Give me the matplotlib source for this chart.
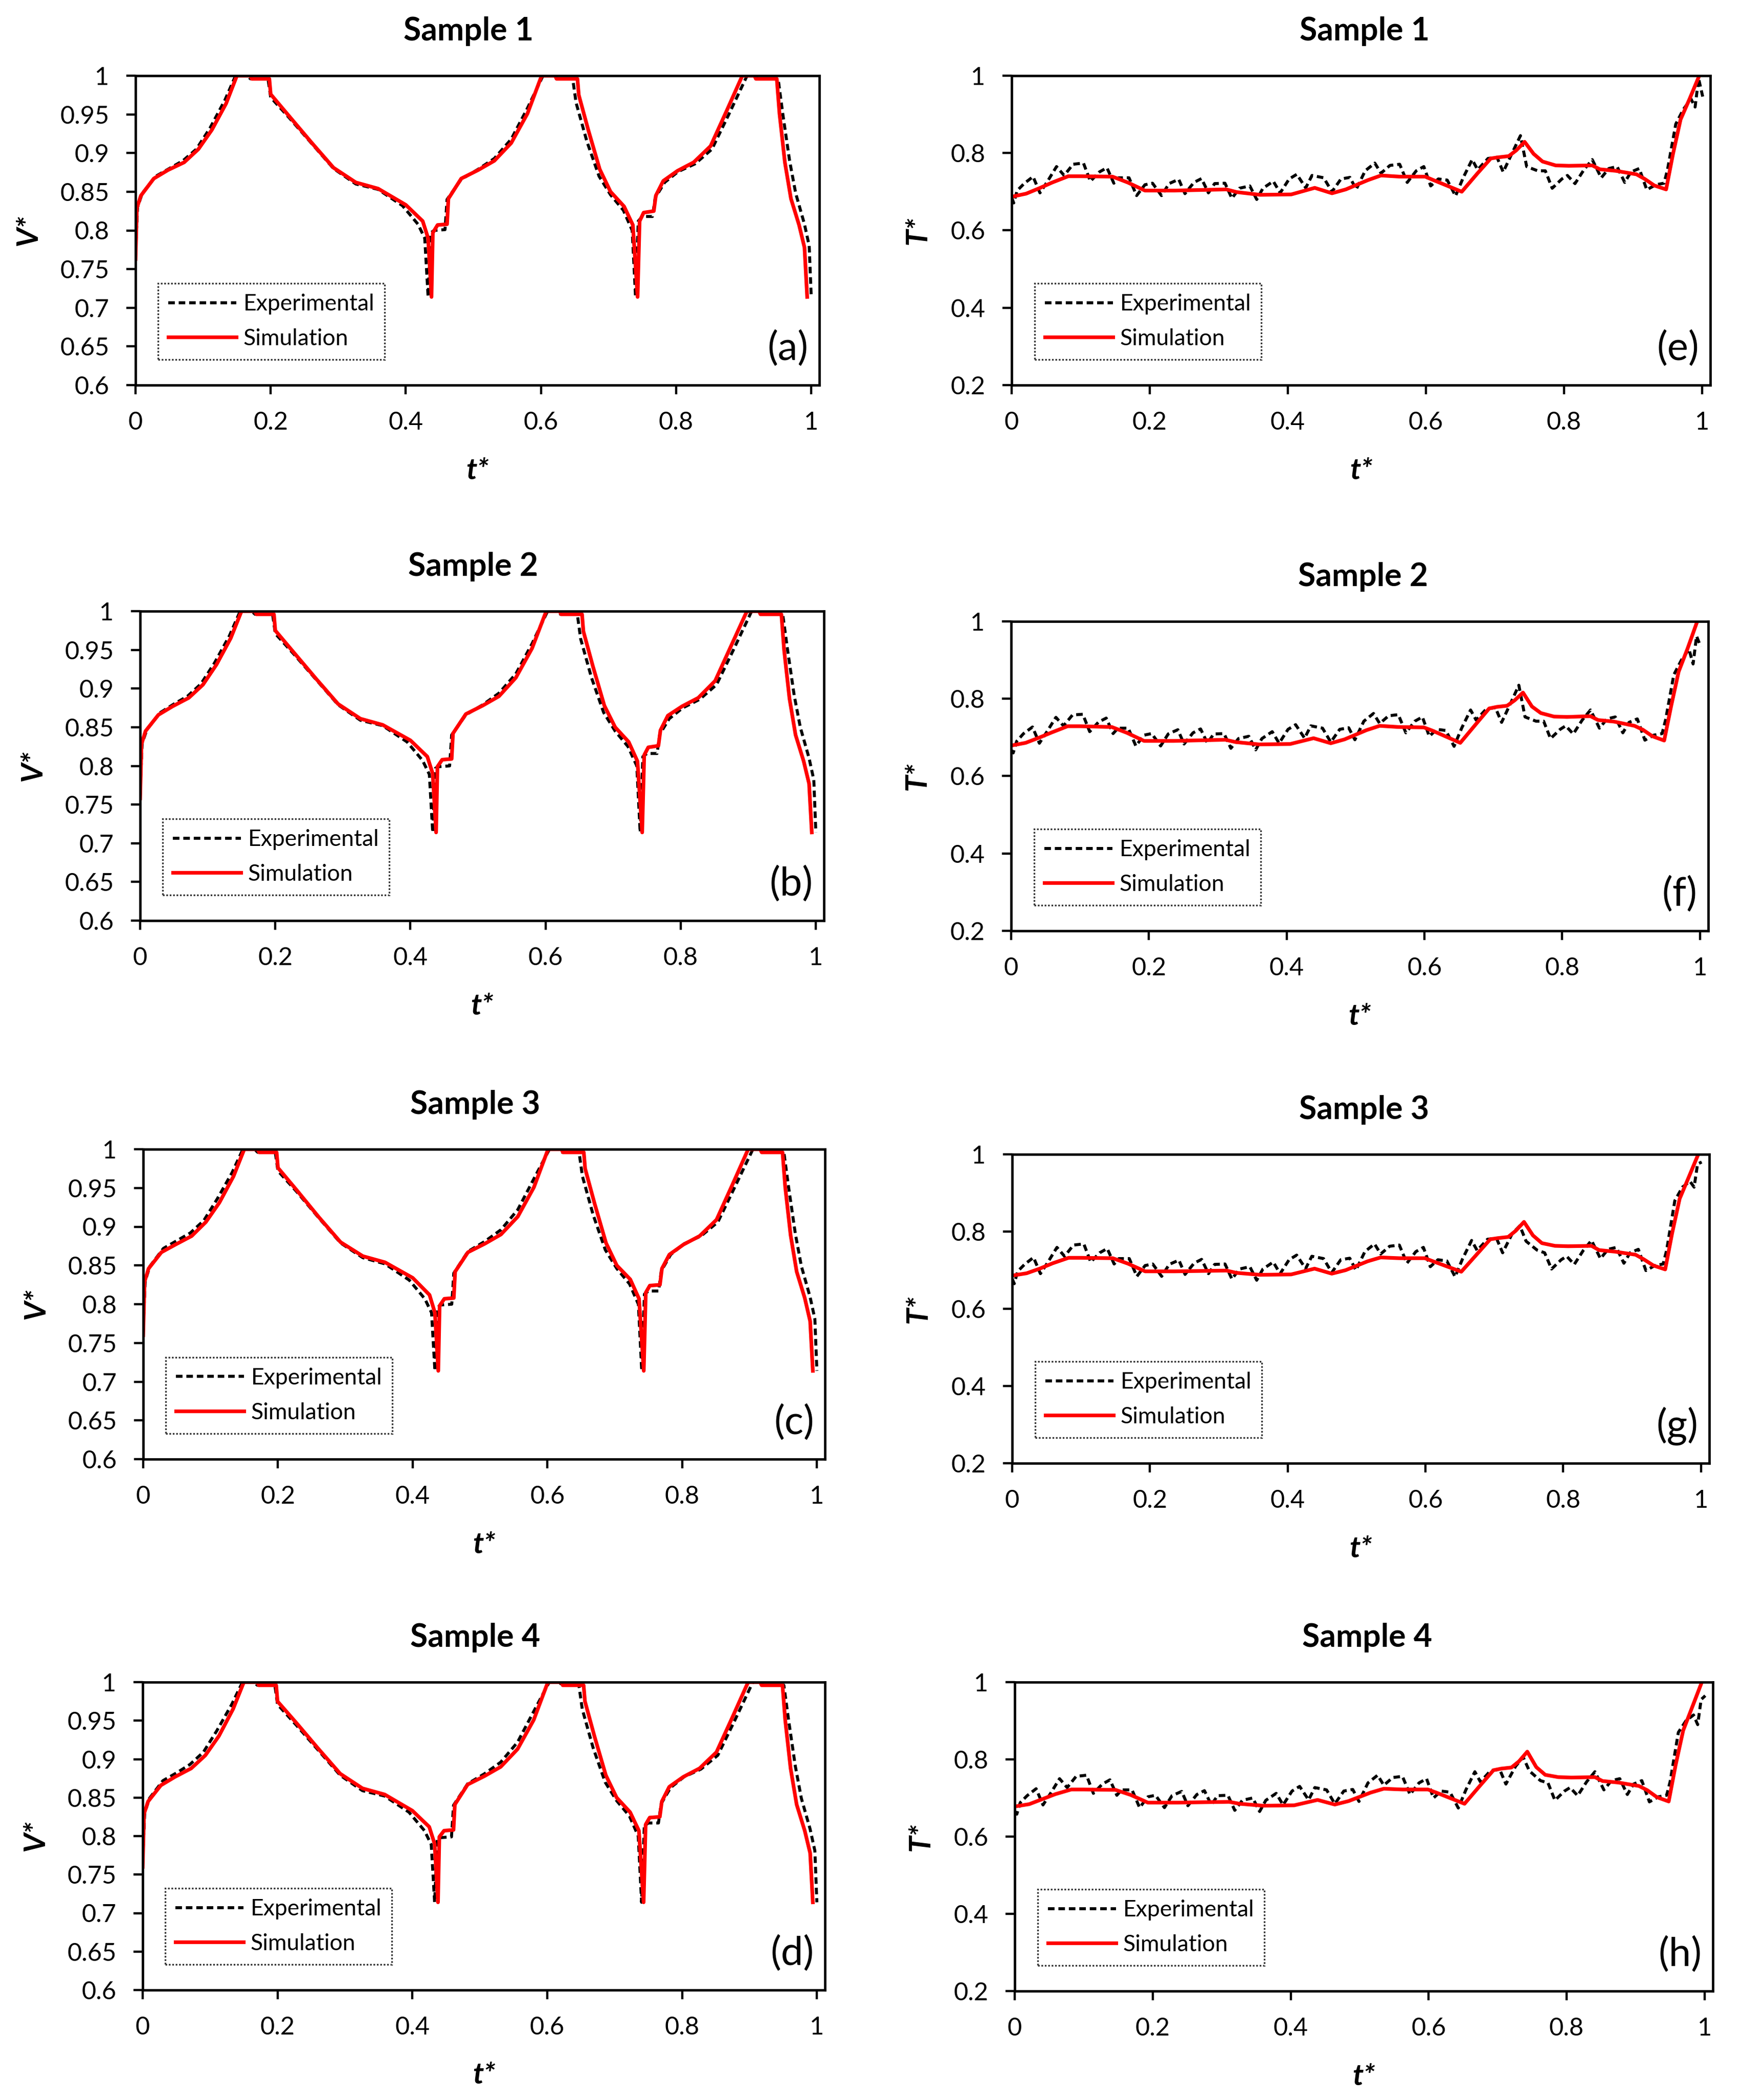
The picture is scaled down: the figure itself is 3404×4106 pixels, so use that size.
import matplotlib
matplotlib.use("Agg")
import matplotlib.pyplot as plt
from matplotlib.ticker import FuncFormatter, MultipleLocator

plt.rcParams["font.family"] = ["Lato", "DejaVu Sans"]

# ---- V* panels (a)-(d) ----
t_v_sim = [0.000, 0.002, 0.008, 0.027, 0.048, 0.072, 0.093, 0.113, 0.134, 0.150,
           0.170, 0.172, 0.198, 0.200, 0.228, 0.261, 0.293, 0.326, 0.359, 0.400,
           0.425, 0.433, 0.438, 0.440, 0.447, 0.461, 0.463, 0.482, 0.507, 0.531,
           0.556, 0.580, 0.601, 0.621, 0.623, 0.654, 0.656, 0.670, 0.687, 0.703,
           0.723, 0.736, 0.743, 0.746, 0.752, 0.767, 0.770, 0.781, 0.802, 0.826,
           0.851, 0.875, 0.898, 0.916, 0.918, 0.949, 0.953, 0.961, 0.970, 0.982,
           0.990, 0.994]
t_v_exp = [0.000, 0.003, 0.010, 0.030, 0.050, 0.070, 0.090, 0.110, 0.132, 0.148,
           0.165, 0.170, 0.196, 0.200, 0.228, 0.261, 0.293, 0.326, 0.359, 0.395,
           0.418, 0.428, 0.433, 0.437, 0.442, 0.458, 0.461, 0.482, 0.507, 0.531,
           0.556, 0.580, 0.603, 0.618, 0.622, 0.647, 0.652, 0.668, 0.686, 0.703,
           0.722, 0.735, 0.740, 0.744, 0.750, 0.765, 0.769, 0.783, 0.803, 0.828,
           0.853, 0.878, 0.905, 0.918, 0.920, 0.951, 0.958, 0.968, 0.977, 0.990,
           0.997, 1.000]

v_sim_1 = [0.763, 0.829, 0.845, 0.867, 0.878, 0.888, 0.905, 0.930, 0.964, 1.000,
           1.000, 0.996, 0.996, 0.976, 0.947, 0.913, 0.881, 0.862, 0.854, 0.833,
           0.812, 0.790, 0.714, 0.797, 0.807, 0.808, 0.841, 0.867, 0.878, 0.890,
           0.913, 0.951, 1.000, 1.000, 0.996, 0.996, 0.975, 0.930, 0.879, 0.850,
           0.831, 0.807, 0.714, 0.812, 0.823, 0.825, 0.845, 0.864, 0.877, 0.888,
           0.909, 0.955, 1.000, 1.000, 0.996, 0.996, 0.951, 0.888, 0.841, 0.807,
           0.778, 0.714]
v_exp_1 = [0.770, 0.830, 0.848, 0.870, 0.880, 0.890, 0.905, 0.932, 0.968, 1.000,
           1.000, 0.996, 0.996, 0.972, 0.945, 0.912, 0.880, 0.860, 0.853, 0.832,
           0.808, 0.790, 0.714, 0.797, 0.800, 0.801, 0.840, 0.866, 0.879, 0.893,
           0.918, 0.958, 1.000, 1.000, 0.996, 0.996, 0.965, 0.915, 0.870, 0.846,
           0.826, 0.800, 0.714, 0.812, 0.818, 0.818, 0.842, 0.862, 0.876, 0.886,
           0.905, 0.950, 1.000, 1.000, 0.996, 0.996, 0.950, 0.890, 0.848, 0.808,
           0.780, 0.714]

v_sim_2 = [0.758, 0.828, 0.845, 0.866, 0.877, 0.888, 0.905, 0.931, 0.965, 1.000,
           1.000, 0.996, 0.996, 0.975, 0.946, 0.912, 0.880, 0.861, 0.853, 0.833,
           0.812, 0.790, 0.714, 0.799, 0.808, 0.809, 0.842, 0.867, 0.878, 0.890,
           0.914, 0.952, 1.000, 1.000, 0.996, 0.996, 0.974, 0.929, 0.878, 0.850,
           0.831, 0.806, 0.714, 0.814, 0.824, 0.826, 0.846, 0.865, 0.877, 0.888,
           0.910, 0.956, 1.000, 1.000, 0.996, 0.996, 0.950, 0.887, 0.840, 0.806,
           0.777, 0.714]
v_exp_2 = [0.768, 0.829, 0.847, 0.869, 0.880, 0.890, 0.906, 0.933, 0.968, 1.000,
           1.000, 0.996, 0.996, 0.971, 0.944, 0.911, 0.879, 0.859, 0.852, 0.831,
           0.807, 0.789, 0.714, 0.797, 0.799, 0.800, 0.840, 0.866, 0.879, 0.894,
           0.919, 0.958, 1.000, 1.000, 0.996, 0.996, 0.964, 0.914, 0.869, 0.845,
           0.825, 0.800, 0.714, 0.812, 0.816, 0.816, 0.841, 0.861, 0.875, 0.886,
           0.905, 0.950, 1.000, 1.000, 0.996, 0.996, 0.951, 0.891, 0.850, 0.810,
           0.782, 0.714]

v_sim_3 = [0.760, 0.829, 0.846, 0.867, 0.877, 0.888, 0.906, 0.931, 0.965, 1.000,
           1.000, 0.996, 0.996, 0.976, 0.947, 0.912, 0.880, 0.862, 0.854, 0.834,
           0.812, 0.789, 0.714, 0.798, 0.807, 0.808, 0.842, 0.867, 0.878, 0.890,
           0.913, 0.951, 1.000, 1.000, 0.996, 0.996, 0.975, 0.930, 0.879, 0.850,
           0.832, 0.807, 0.714, 0.815, 0.824, 0.825, 0.846, 0.864, 0.877, 0.888,
           0.909, 0.955, 1.000, 1.000, 0.996, 0.996, 0.951, 0.889, 0.842, 0.808,
           0.778, 0.714]
v_exp_3 = [0.768, 0.830, 0.849, 0.872, 0.882, 0.892, 0.908, 0.936, 0.970, 1.000,
           1.000, 0.996, 0.996, 0.972, 0.945, 0.911, 0.879, 0.860, 0.852, 0.831,
           0.807, 0.789, 0.714, 0.796, 0.799, 0.800, 0.840, 0.868, 0.881, 0.896,
           0.922, 0.962, 1.000, 1.000, 0.996, 0.996, 0.965, 0.915, 0.870, 0.846,
           0.826, 0.800, 0.714, 0.813, 0.817, 0.817, 0.843, 0.864, 0.878, 0.888,
           0.906, 0.951, 1.000, 1.000, 0.996, 0.996, 0.951, 0.891, 0.849, 0.809,
           0.781, 0.714]

v_sim_4 = [0.760, 0.829, 0.845, 0.866, 0.877, 0.888, 0.905, 0.930, 0.965, 1.000,
           1.000, 0.996, 0.996, 0.975, 0.947, 0.913, 0.881, 0.862, 0.854, 0.833,
           0.812, 0.790, 0.714, 0.799, 0.807, 0.808, 0.841, 0.867, 0.878, 0.890,
           0.913, 0.951, 1.000, 1.000, 0.996, 0.996, 0.975, 0.930, 0.879, 0.850,
           0.831, 0.807, 0.714, 0.815, 0.824, 0.825, 0.845, 0.864, 0.877, 0.888,
           0.909, 0.955, 1.000, 1.000, 0.996, 0.996, 0.951, 0.888, 0.841, 0.807,
           0.778, 0.714]
v_exp_4 = [0.768, 0.830, 0.849, 0.872, 0.882, 0.893, 0.909, 0.937, 0.971, 1.000,
           1.000, 0.996, 0.996, 0.971, 0.944, 0.911, 0.879, 0.859, 0.852, 0.831,
           0.807, 0.789, 0.714, 0.796, 0.798, 0.799, 0.840, 0.868, 0.881, 0.896,
           0.922, 0.962, 1.000, 1.000, 0.996, 0.996, 0.965, 0.915, 0.870, 0.846,
           0.826, 0.800, 0.714, 0.813, 0.817, 0.817, 0.842, 0.863, 0.877, 0.887,
           0.905, 0.950, 1.000, 1.000, 0.996, 0.996, 0.951, 0.891, 0.849, 0.809,
           0.781, 0.714]

# ---- T* panels (e)-(h) ----
t_T_exp = [0.000, 0.003, 0.008, 0.018, 0.031, 0.041, 0.052, 0.065, 0.076, 0.089,
           0.104, 0.114, 0.127, 0.138, 0.148, 0.155, 0.170, 0.181, 0.193, 0.204,
           0.217, 0.228, 0.242, 0.251, 0.264, 0.275, 0.285, 0.294, 0.309, 0.319,
           0.330, 0.345, 0.355, 0.364, 0.379, 0.389, 0.402, 0.413, 0.426, 0.435,
           0.452, 0.464, 0.477, 0.490, 0.499, 0.512, 0.526, 0.535, 0.548, 0.562,
           0.573, 0.586, 0.597, 0.607, 0.618, 0.631, 0.643, 0.654, 0.667, 0.675,
           0.690, 0.703, 0.712, 0.726, 0.737, 0.746, 0.762, 0.773, 0.783, 0.797,
           0.805, 0.816, 0.829, 0.841, 0.854, 0.865, 0.877, 0.888, 0.897, 0.909,
           0.920, 0.933, 0.945, 0.950, 0.962, 0.973, 0.984, 0.990, 0.995, 1.001]
t_T_sim = [0.000, 0.021, 0.040, 0.059, 0.082, 0.100, 0.146, 0.168, 0.193, 0.236,
           0.311, 0.326, 0.360, 0.405, 0.439, 0.464, 0.484, 0.516, 0.535, 0.562,
           0.599, 0.611, 0.652, 0.675, 0.694, 0.705, 0.720, 0.731, 0.743, 0.756,
           0.769, 0.788, 0.807, 0.841, 0.852, 0.875, 0.905, 0.917, 0.931, 0.948,
           0.958, 0.969, 0.982, 0.996]

T_exp_1 = [0.685, 0.671, 0.703, 0.721, 0.739, 0.697, 0.727, 0.765, 0.742, 0.771,
           0.774, 0.727, 0.751, 0.762, 0.722, 0.736, 0.736, 0.690, 0.718, 0.722,
           0.690, 0.721, 0.732, 0.695, 0.724, 0.734, 0.697, 0.721, 0.722, 0.683,
           0.709, 0.715, 0.680, 0.709, 0.727, 0.697, 0.733, 0.745, 0.710, 0.742,
           0.736, 0.700, 0.733, 0.737, 0.706, 0.754, 0.774, 0.748, 0.768, 0.771,
           0.724, 0.754, 0.765, 0.715, 0.733, 0.730, 0.689, 0.736, 0.783, 0.757,
           0.786, 0.789, 0.751, 0.804, 0.845, 0.765, 0.754, 0.754, 0.709, 0.733,
           0.742, 0.721, 0.757, 0.783, 0.736, 0.760, 0.765, 0.724, 0.751, 0.760,
           0.705, 0.718, 0.722, 0.757, 0.875, 0.913, 0.940, 0.919, 0.993, 0.946]
T_sim_1 = [0.687, 0.695, 0.709, 0.724, 0.740, 0.740, 0.739, 0.724, 0.703, 0.703,
           0.706, 0.699, 0.692, 0.693, 0.710, 0.696, 0.706, 0.730, 0.742, 0.739,
           0.739, 0.730, 0.700, 0.748, 0.786, 0.789, 0.792, 0.807, 0.829, 0.798,
           0.778, 0.768, 0.767, 0.768, 0.758, 0.754, 0.745, 0.733, 0.716, 0.706,
           0.798, 0.887, 0.940, 1.000]

T_exp_2 = [0.668, 0.660, 0.690, 0.710, 0.727, 0.685, 0.715, 0.752, 0.730, 0.758,
           0.760, 0.715, 0.740, 0.750, 0.710, 0.724, 0.724, 0.678, 0.706, 0.710,
           0.678, 0.709, 0.720, 0.683, 0.712, 0.722, 0.685, 0.709, 0.710, 0.672,
           0.697, 0.703, 0.668, 0.697, 0.715, 0.685, 0.721, 0.733, 0.698, 0.730,
           0.724, 0.688, 0.721, 0.725, 0.694, 0.742, 0.762, 0.736, 0.756, 0.759,
           0.712, 0.742, 0.753, 0.703, 0.721, 0.718, 0.677, 0.724, 0.771, 0.745,
           0.774, 0.777, 0.739, 0.792, 0.835, 0.753, 0.742, 0.742, 0.697, 0.721,
           0.730, 0.709, 0.745, 0.771, 0.724, 0.748, 0.753, 0.712, 0.739, 0.748,
           0.693, 0.706, 0.710, 0.745, 0.862, 0.900, 0.928, 0.890, 0.962, 0.935]
T_sim_2 = [0.679, 0.686, 0.699, 0.713, 0.729, 0.729, 0.727, 0.712, 0.691, 0.691,
           0.694, 0.688, 0.682, 0.683, 0.698, 0.685, 0.695, 0.719, 0.730, 0.727,
           0.726, 0.718, 0.686, 0.735, 0.775, 0.779, 0.782, 0.796, 0.816, 0.780,
           0.763, 0.754, 0.753, 0.755, 0.745, 0.741, 0.730, 0.720, 0.703, 0.692,
           0.780, 0.870, 0.930, 1.000]

T_exp_3 = [0.678, 0.665, 0.697, 0.715, 0.733, 0.691, 0.721, 0.759, 0.736, 0.765,
           0.768, 0.721, 0.745, 0.756, 0.716, 0.730, 0.730, 0.684, 0.712, 0.716,
           0.684, 0.715, 0.726, 0.689, 0.718, 0.728, 0.691, 0.715, 0.716, 0.677,
           0.703, 0.709, 0.674, 0.703, 0.721, 0.691, 0.727, 0.739, 0.704, 0.736,
           0.730, 0.694, 0.727, 0.731, 0.700, 0.748, 0.768, 0.742, 0.762, 0.765,
           0.718, 0.748, 0.759, 0.709, 0.727, 0.724, 0.683, 0.730, 0.777, 0.751,
           0.780, 0.783, 0.745, 0.795, 0.815, 0.775, 0.752, 0.745, 0.703, 0.727,
           0.736, 0.715, 0.751, 0.777, 0.730, 0.754, 0.759, 0.718, 0.745, 0.754,
           0.699, 0.712, 0.716, 0.751, 0.880, 0.915, 0.930, 0.915, 0.975, 0.980]
T_sim_3 = [0.686, 0.692, 0.704, 0.718, 0.732, 0.732, 0.731, 0.717, 0.697, 0.697,
           0.699, 0.693, 0.688, 0.689, 0.704, 0.691, 0.700, 0.723, 0.733, 0.731,
           0.731, 0.723, 0.696, 0.742, 0.780, 0.783, 0.786, 0.802, 0.825, 0.790,
           0.770, 0.763, 0.762, 0.763, 0.752, 0.748, 0.740, 0.728, 0.712, 0.702,
           0.795, 0.885, 0.940, 1.000]

T_exp_4 = [0.665, 0.658, 0.688, 0.706, 0.724, 0.682, 0.712, 0.750, 0.727, 0.756,
           0.759, 0.712, 0.736, 0.747, 0.707, 0.721, 0.721, 0.675, 0.703, 0.707,
           0.675, 0.706, 0.717, 0.680, 0.709, 0.719, 0.682, 0.706, 0.707, 0.668,
           0.694, 0.700, 0.665, 0.694, 0.712, 0.682, 0.718, 0.730, 0.695, 0.727,
           0.721, 0.685, 0.718, 0.722, 0.691, 0.739, 0.759, 0.733, 0.753, 0.756,
           0.709, 0.739, 0.750, 0.700, 0.718, 0.715, 0.674, 0.721, 0.768, 0.742,
           0.771, 0.774, 0.736, 0.782, 0.806, 0.770, 0.745, 0.739, 0.694, 0.718,
           0.727, 0.706, 0.742, 0.768, 0.721, 0.745, 0.750, 0.709, 0.736, 0.745,
           0.690, 0.703, 0.707, 0.742, 0.870, 0.900, 0.915, 0.890, 0.955, 0.965]
T_sim_4 = [0.678, 0.684, 0.697, 0.710, 0.722, 0.722, 0.721, 0.708, 0.688, 0.688,
           0.690, 0.685, 0.680, 0.681, 0.695, 0.683, 0.692, 0.714, 0.724, 0.722,
           0.722, 0.714, 0.685, 0.733, 0.772, 0.776, 0.779, 0.795, 0.820, 0.780,
           0.760, 0.754, 0.753, 0.754, 0.744, 0.740, 0.731, 0.720, 0.702, 0.691,
           0.785, 0.875, 0.935, 1.000]

W, H = 3405, 4106
fig = plt.figure(figsize=(W / 100, H / 100), dpi=100)


def box(l, r, t, b):
    return [l / W, 1 - b / H, (r - l) / W, (b - t) / H]


def plain(v, pos):
    return f"{v:g}"


def panel(pos, t_exp, y_exp, t_sim, y_sim, title, tag, kind):
    ax = fig.add_axes(box(*pos))
    ax.plot(t_exp, y_exp, color="black", lw=4.2, dashes=(2.2, 1.3))
    ax.plot(t_sim, y_sim, color="red", lw=5.2)

    ax.set_xlim(0, 1.012)
    ax.xaxis.set_major_locator(MultipleLocator(0.2))
    if kind == "V":
        ax.set_ylim(0.6, 1)
        ax.yaxis.set_major_locator(MultipleLocator(0.05))
        ylab, ylx, tx = "V*", -0.137, 0.487
    else:
        ax.set_ylim(0.2, 1)
        ax.yaxis.set_major_locator(MultipleLocator(0.2))
        ylab, ylx, tx = "T*", -0.115, 0.505
    ax.xaxis.set_major_formatter(FuncFormatter(plain))
    ax.yaxis.set_major_formatter(FuncFormatter(plain))

    for s in ax.spines.values():
        s.set_linewidth(3.4)
    ax.tick_params(direction="out", length=13, width=3.2, labelsize=35)
    ax.tick_params(axis="x", pad=24)
    ax.tick_params(axis="y", pad=24)

    ax.set_ylabel(ylab, fontsize=42, fontweight="bold", fontstyle="italic")
    ax.yaxis.set_label_coords(ylx, 0.5)
    ax.set_xlabel("t*", fontsize=42, fontweight="bold", fontstyle="italic")
    ax.xaxis.set_label_coords(0.5, -0.233)

    ax.text(tx, 1.144, title, transform=ax.transAxes, ha="center", va="center",
            fontsize=45, fontweight="bold")
    ax.text(0.984, 0.058, tag, transform=ax.transAxes, ha="right", va="bottom",
            fontsize=56)

    leg = ax.legend(["Experimental", "Simulation"], loc="lower left",
                    bbox_to_anchor=(0.033, 0.083), borderaxespad=0, fontsize=32,
                    frameon=True, fancybox=False, handlelength=3.0,
                    handletextpad=0.3, labelspacing=0.6, borderpad=0.45)
    fr = leg.get_frame()
    fr.set_edgecolor("black")
    fr.set_linewidth(2.4)
    fr.set_linestyle((0, (1, 1)))
    return ax


panel((265, 1602, 148, 753), t_v_exp, v_exp_1, t_v_sim, v_sim_1, "Sample 1", "(a)", "V")
panel((274, 1611, 1195, 1800), t_v_exp, v_exp_2, t_v_sim, v_sim_2, "Sample 2", "(b)", "V")
panel((280, 1613, 2247, 2853), t_v_exp, v_exp_3, t_v_sim, v_sim_3, "Sample 3", "(c)", "V")
panel((279, 1613, 3289, 3891), t_v_exp, v_exp_4, t_v_sim, v_sim_4, "Sample 4", "(d)", "V")

panel((1978, 3344, 148, 753), t_T_exp, T_exp_1, t_T_sim, T_sim_1, "Sample 1", "(e)", "T")
panel((1977, 3340, 1215, 1820), t_T_exp, T_exp_2, t_T_sim, T_sim_2, "Sample 2", "(f)", "T")
panel((1979, 3342, 2257, 2861), t_T_exp, T_exp_3, t_T_sim, T_sim_3, "Sample 3", "(g)", "T")
panel((1984, 3349, 3289, 3893), t_T_exp, T_exp_4, t_T_sim, T_sim_4, "Sample 4", "(h)", "T")

fig.savefig("out.png", dpi=100)
